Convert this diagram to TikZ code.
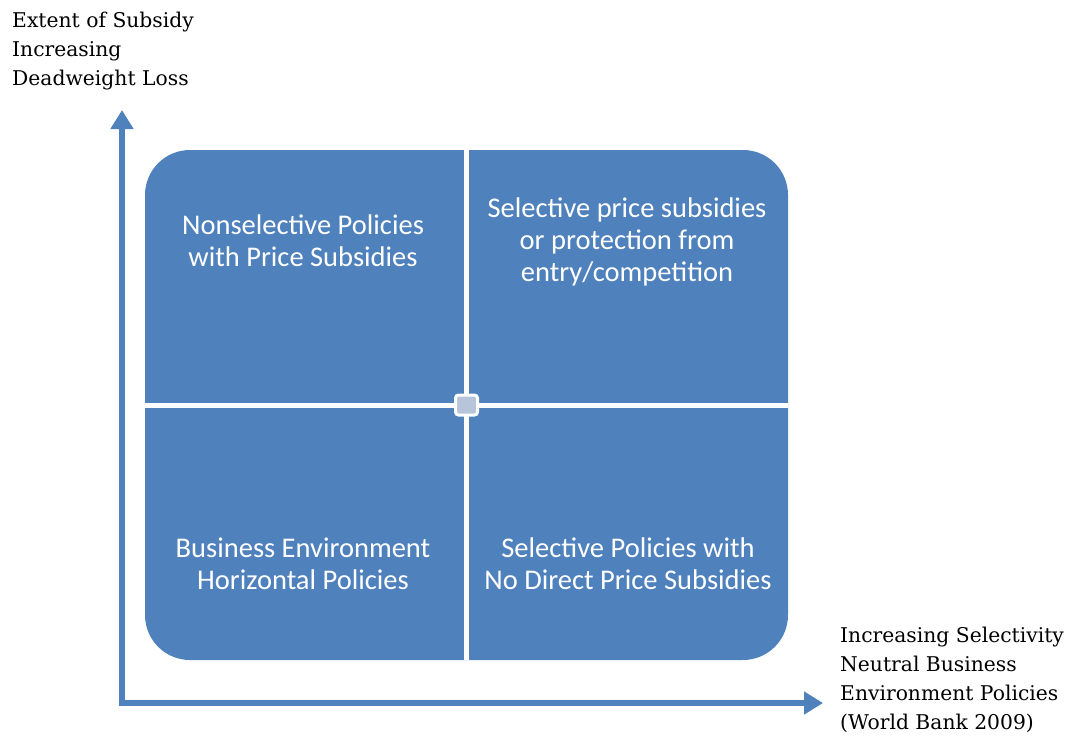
\documentclass[tikz,border=0pt]{standalone}
\usepackage{fontspec}
\setmainfont{DejaVu Serif}
\newfontfamily\quadfont{Carlito}
\usetikzlibrary{arrows.meta,positioning}

\definecolor{boxblue}{RGB}{79,129,189}
\definecolor{hubgray}{RGB}{184,196,218}

\tikzset{
	quadtext/.style={text=white,align=center,font=\quadfont\fontsize{28.5}{32}\selectfont},
	axislabel/.style={align=left,anchor=west,inner sep=0pt,font=\fontsize{20.3}{29}\selectfont},
	axisarrow/.style={draw=boxblue,line width=6pt,line cap=rect,-{Triangle[width=22pt,length=19pt]}}
}

\begin{document}
\begin{tikzpicture}[x=1pt,y=-1pt]
	\useasboundingbox (0,0) rectangle (1068,736);
	
	% the rounded block split into four
	\node[fill=boxblue,rounded corners=45pt,minimum width=643pt,minimum height=510pt,inner sep=0pt] (grid) at (466.5,405){};
	\draw[white,line width=5pt] (grid.north) -- (grid.south);
	\draw[white,line width=5pt] (grid.west) -- (grid.east);
	\node[draw=white,line width=3pt,fill=hubgray,rounded corners=3pt,minimum width=22pt,minimum height=20pt,inner sep=0pt] (hub) at (grid.center){};
	
	% quadrant texts
	\node[quadtext] (q1) at (303,241){Nonselective Policies\\with Price Subsidies};
	\node[quadtext] (q2) at (627,242){Selective price subsidies\\or protection from\\entry/competition};
	\node[quadtext] (q3) at (303,564){Business Environment\\Horizontal Policies};
	\node[quadtext] (q4) at (628,564){Selective Policies with\\No Direct Price Subsidies};
	
	% axes
	\coordinate (origin) at (122,703);
	\coordinate (ytip) at (122,110);
	\coordinate (xtip) at (823,703);
	\draw[axisarrow] (origin) -- (ytip);
	\draw[axisarrow] (origin) -- (xtip);
	
	% axis labels
	\node[axislabel] (ylab) at (12,51){Extent of Subsidy\\Increasing\\Deadweight Loss};
	\node[axislabel] (xlab) at (840,680){Increasing Selectivity\\Neutral Business\\Environment Policies\\(World Bank 2009)};
	
\end{tikzpicture}
\end{document}
